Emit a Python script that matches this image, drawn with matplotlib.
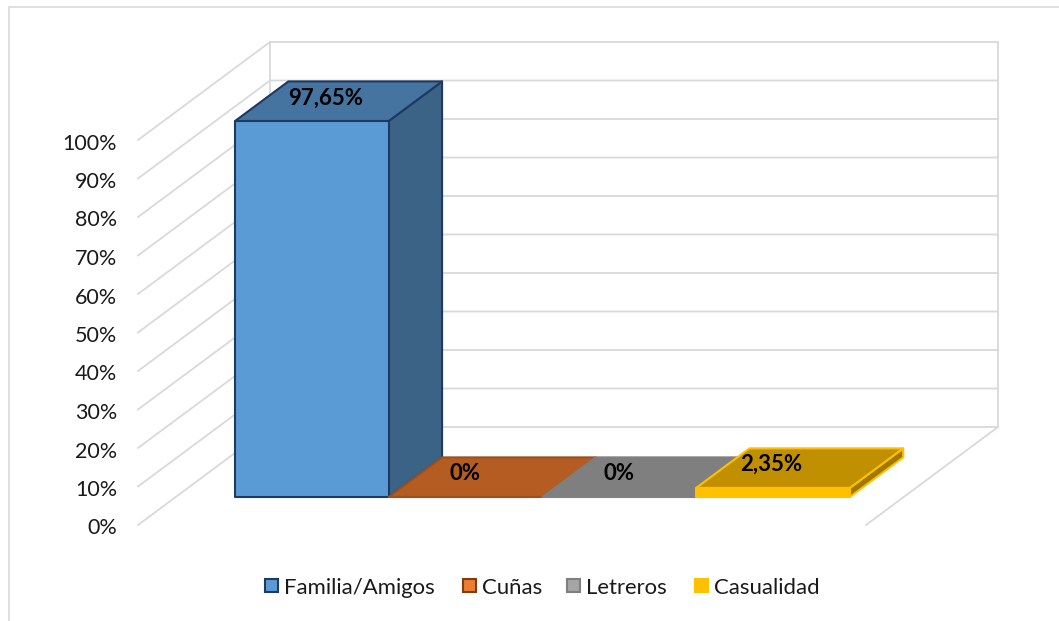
import matplotlib.pyplot as plt
from matplotlib.patches import Polygon, Rectangle

plt.rcParams['font.family'] = ['Lato', 'DejaVu Sans']

categories = ['Familia/Amigos', 'Cuñas', 'Letreros', 'Casualidad']
values = [97.65, 0, 0, 2.35]
value_labels = ['97,65%', '0%', '0%', '2,35%']
ticks = [0, 10, 20, 30, 40, 50, 60, 70, 80, 90, 100]
tick_labels = ['0%', '10%', '20%', '30%', '40%', '50%', '60%', '70%', '80%', '90%', '100%']

face_colors = ['#5b9bd5', '#b45c22', '#7f7f7f', '#ffc000']
top_colors = ['#44749f', '#b45c22', '#7f7f7f', '#c09000']
side_colors = ['#3a6386', '#8f4a1b', '#666666', '#a07800']
edge_colors = ['#1f3864', '#9c5020', '#7f7f7f', '#ffc000']
legend_fill = ['#5b9bd5', '#ed7d31', '#a5a5a5', '#ffc000']
legend_edge = ['#1f3864', '#843c0c', '#7f7f7f', '#ffc000']

W, H = 1059, 621
fig = plt.figure(figsize=(W / 100, H / 100), dpi=100)
ax = fig.add_axes([0, 0, 1, 1])
ax.set_xlim(0, W)
ax.set_ylim(H, 0)
ax.axis('off')

# fake 3d: floor front left corner, depth vector, pixels per percent
x0, y0 = 138, 525
dx, dy = 132, -98
width = 728
per_pct = 3.85
grid = '#d9d9d9'


def proj(x, v, d):
    # x along the floor (px), v in percent, d depth 0..1
    return x0 + x + d * dx, y0 - v * per_pct + d * dy


# chart border, only top and left show in the crop
ax.plot([8.5, 8.5, W], [H, 7, 7], color='#d9d9d9', lw=1.2, zorder=1)

# walls
for t in ticks:
    px = [proj(0, t, 0), proj(0, t, 1), proj(width, t, 1)]
    ax.plot([p[0] for p in px], [p[1] for p in px], color=grid, lw=1.3, zorder=2)
ax.plot(*zip(proj(0, 0, 1), proj(0, 100, 1)), color=grid, lw=1.3, zorder=2)
ax.plot(*zip(proj(width, 0, 1), proj(width, 100, 1)), color=grid, lw=1.3, zorder=2)
ax.plot(*zip(proj(width, 0, 0), proj(width, 0, 1)), color=grid, lw=1.3, zorder=2)

for t, lab in zip(ticks, tick_labels):
    ax.text(117, proj(0, t, 0)[1] + 3.5, lab, ha='right', va='center', fontsize=15.5, color='#1a1a1a')

# bars
bar_w = 153.7
bar_left = 59.3
d0, d1 = 0.286, 0.69
label_shift = [-13, -27, -27, -28]
for i, v in enumerate(values):
    l, r = bar_left + i * bar_w, bar_left + (i + 1) * bar_w
    lw = 1.5
    front = [proj(l, 0, d0), proj(r, 0, d0), proj(r, v, d0), proj(l, v, d0)]
    top = [proj(l, v, d0), proj(r, v, d0), proj(r, v, d1), proj(l, v, d1)]
    side = [proj(r, 0, d0), proj(r, 0, d1), proj(r, v, d1), proj(r, v, d0)]
    z = 5
    ax.add_patch(Polygon(side, closed=True, fc=side_colors[i], ec=edge_colors[i], lw=lw, joinstyle='round', zorder=z))
    ax.add_patch(Polygon(top, closed=True, fc=top_colors[i], ec=edge_colors[i], lw=lw, joinstyle='round', zorder=z))
    ax.add_patch(Polygon(front, closed=True, fc=face_colors[i], ec=edge_colors[i], lw=lw, joinstyle='round', zorder=z))
    cx = (top[0][0] + top[2][0]) / 2
    cy = (top[0][1] + top[2][1]) / 2
    ax.text(cx + label_shift[i], cy - 3.5, value_labels[i], ha='center', va='center', fontsize=16, fontweight='bold', color='black', zorder=8)

# legend, hand placed because the reference spacing is uneven
leg_x = [265, 463, 567, 695]
for x, name, fc, ec in zip(leg_x, categories, legend_fill, legend_edge):
    ax.add_patch(Rectangle((x, 579), 13, 13, fc=fc, ec=ec, lw=1.5, zorder=6))
    ax.text(x + 19, 587.5, name, ha='left', va='center', fontsize=15.9, color='#1a1a1a')

fig.savefig('out.png', dpi=100)
